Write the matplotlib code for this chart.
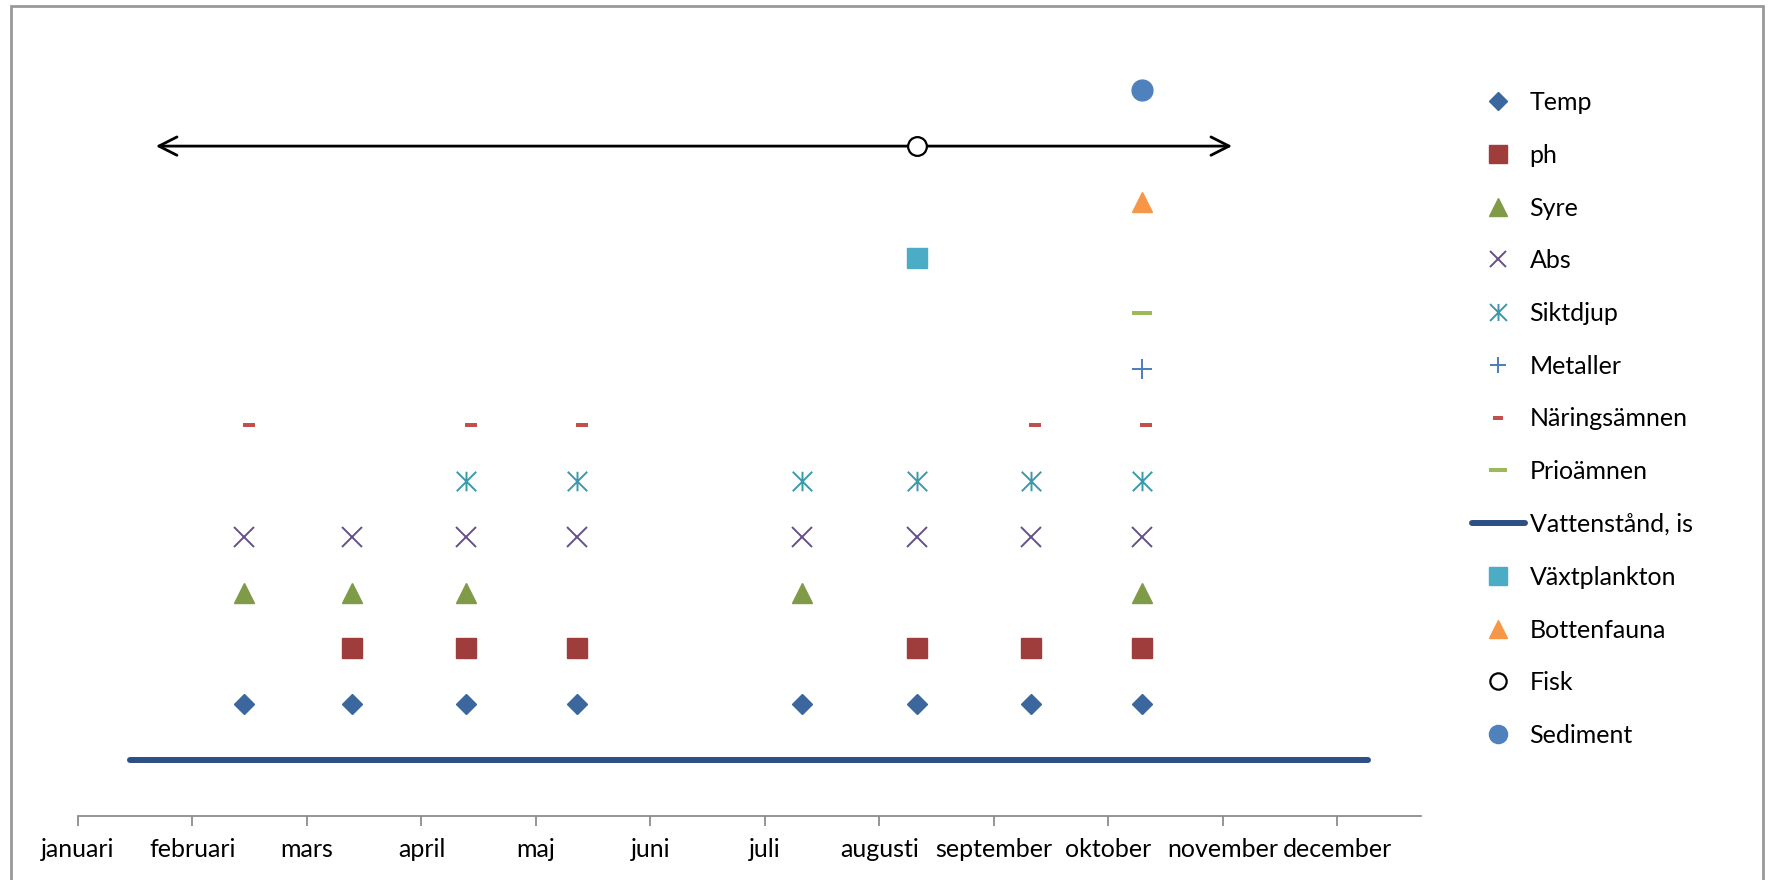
import matplotlib
matplotlib.use("Agg")
import matplotlib.pyplot as plt
from matplotlib.path import Path
from matplotlib.patches import Rectangle

plt.rcParams['font.family'] = ['Lato', 'DejaVu Sans']

# ---------------- data ----------------
months = ['januari', 'februari', 'mars', 'april', 'maj', 'juni', 'juli',
          'augusti', 'september', 'oktober', 'november', 'december']

# sampling occasions (x in month units, 0 = start of januari)
temp_x = [1.45, 2.39, 3.39, 4.36, 6.32, 7.33, 8.32, 9.29]
ph_x = [2.39, 3.39, 4.36, 7.33, 8.32, 9.29]
syre_x = [1.45, 2.39, 3.39, 6.32, 9.29]
abs_x = [1.45, 2.39, 3.39, 4.36, 6.32, 7.33, 8.32, 9.29]
sikt_x = [3.39, 4.36, 6.32, 7.33, 8.32, 9.29]
naring_x = [1.49, 3.43, 4.40, 8.36, 9.33]
metaller_x = [9.29]
prio_x = [9.29]
vatten_x = [0.45, 11.27]
vaxt_x = [7.33]
botten_x = [9.29]
fisk_x = [7.33]
fisk_span = [0.68, 10.08]
sediment_x = [9.29]

# row level of each series
levels = {'Vattenstånd, is': 1, 'Temp': 2, 'ph': 3, 'Syre': 4, 'Abs': 5,
          'Siktdjup': 6, 'Näringsämnen': 7, 'Metaller': 8, 'Prioämnen': 9,
          'Växtplankton': 10, 'Bottenfauna': 11, 'Fisk': 12, 'Sediment': 13}

# ---------------- markers ----------------
star_path = Path([(-0.5, -0.5), (0.5, 0.5), (-0.5, 0.5), (0.5, -0.5), (0, -0.5), (0, 0.5)],
                 [Path.MOVETO, Path.LINETO, Path.MOVETO, Path.LINETO, Path.MOVETO, Path.LINETO])
dash_small = [(-0.5, -0.2), (0.5, -0.2), (0.5, 0.2), (-0.5, 0.2), (-0.5, -0.2)]
dash_wide = [(-0.5, -0.12), (0.5, -0.12), (0.5, 0.12), (-0.5, 0.12), (-0.5, -0.12)]

fig = plt.figure(figsize=(17.73, 8.80), dpi=100)
ax = fig.add_axes([78 / 1773, 1 - 815.7 / 880, (1421 - 78) / 1773, (815.7 - 34.5) / 880])


def row(xs, name):
    return [levels[name]] * len(xs)


handles = []
h, = ax.plot(temp_x, row(temp_x, 'Temp'), ls='none', marker='D', ms=10.5,
             color='#3C679E', mec='#3C679E', label='Temp', zorder=5)
handles.append(h)
h, = ax.plot(ph_x, row(ph_x, 'ph'), ls='none', marker='s', ms=14.5,
             color='#9E3D3B', mec='#9E3D3B', label='ph', zorder=5)
handles.append(h)
h, = ax.plot(syre_x, row(syre_x, 'Syre'), ls='none', marker='^', ms=15,
             color='#7F9B47', mec='#7F9B47', label='Syre', zorder=5)
handles.append(h)
h, = ax.plot(abs_x, row(abs_x, 'Abs'), ls='none', marker='x', ms=14,
             mew=1.4, color='#66508A', label='Abs', zorder=5)
handles.append(h)
h, = ax.plot(sikt_x, row(sikt_x, 'Siktdjup'), ls='none', marker=star_path, ms=14,
             mew=1.4, mfc='none', color='#3C98AD', label='Siktdjup', zorder=5)
handles.append(h)
h, = ax.plot(metaller_x, row(metaller_x, 'Metaller'), ls='none', marker='+', ms=14,
             mew=1.4, color='#4A7EBB', label='Metaller', zorder=5)
handles.append(h)
h, = ax.plot(naring_x, row(naring_x, 'Näringsämnen'), ls='none', marker=dash_small, ms=8.5,
             mew=0, color='#C0504D', label='Näringsämnen', zorder=5)
handles.append(h)
h, = ax.plot(prio_x, row(prio_x, 'Prioämnen'), ls='none', marker=dash_wide, ms=14.5,
             mew=0, color='#9BBB59', label='Prioämnen', zorder=5)
handles.append(h)
h, = ax.plot(vatten_x, row(vatten_x, 'Vattenstånd, is'), ls='-', lw=4.3,
             color='#2C4F86', solid_capstyle='round', label='Vattenstånd, is', zorder=4)
handles.append(h)
h, = ax.plot(vaxt_x, row(vaxt_x, 'Växtplankton'), ls='none', marker='s', ms=14.5,
             color='#4BACC6', mec='#4BACC6', label='Växtplankton', zorder=5)
handles.append(h)
h, = ax.plot(botten_x, row(botten_x, 'Bottenfauna'), ls='none', marker='^', ms=15,
             color='#F79646', mec='#F79646', label='Bottenfauna', zorder=5)
handles.append(h)
ax.annotate('', xy=(fisk_span[1], levels['Fisk']), xytext=(fisk_span[0], levels['Fisk']),
            arrowprops=dict(arrowstyle='<->,head_length=0.65,head_width=0.33',
                            mutation_scale=20, lw=2.0, color='black',
                            shrinkA=0, shrinkB=0), zorder=3)
h, = ax.plot(fisk_x, row(fisk_x, 'Fisk'), ls='none', marker='o', ms=13.5,
             mfc='white', mec='black', mew=1.6, label='Fisk', zorder=6)
handles.append(h)
h, = ax.plot(sediment_x, row(sediment_x, 'Sediment'), ls='none', marker='o', ms=15,
             color='#4F81BD', mec='#4F81BD', label='Sediment', zorder=5)
handles.append(h)

ax.set_xlim(0, 11.73)
ax.set_ylim(0, 14)
ax.set_xticks(range(len(months)))
ax.set_xticklabels(months, fontsize=18)
ax.set_yticks([])
for s in ['left', 'right', 'top']:
    ax.spines[s].set_visible(False)
ax.spines['bottom'].set_color('#8C8C8C')
ax.spines['bottom'].set_linewidth(1.3)
ax.tick_params(axis='x', direction='out', length=7, width=1.3, color='#8C8C8C',
               pad=9, labelcolor='black')
ax.patch.set_alpha(0)

fig.legend(handles=handles, loc='center left', bbox_to_anchor=(1472 / 1773, 1 - 419 / 880),
           frameon=False, fontsize=18, handlelength=2.1, handletextpad=0.2,
           labelspacing=1.19, borderpad=0, borderaxespad=0, markerscale=0.87)

fig.patches.append(Rectangle((11 / 1773, -0.02), (1763 - 11) / 1773, (880 - 6) / 880 + 0.02,
                             transform=fig.transFigure, fill=False,
                             edgecolor='#989898', lw=2, zorder=10))

fig.savefig('out.png', dpi=100, facecolor='white')
